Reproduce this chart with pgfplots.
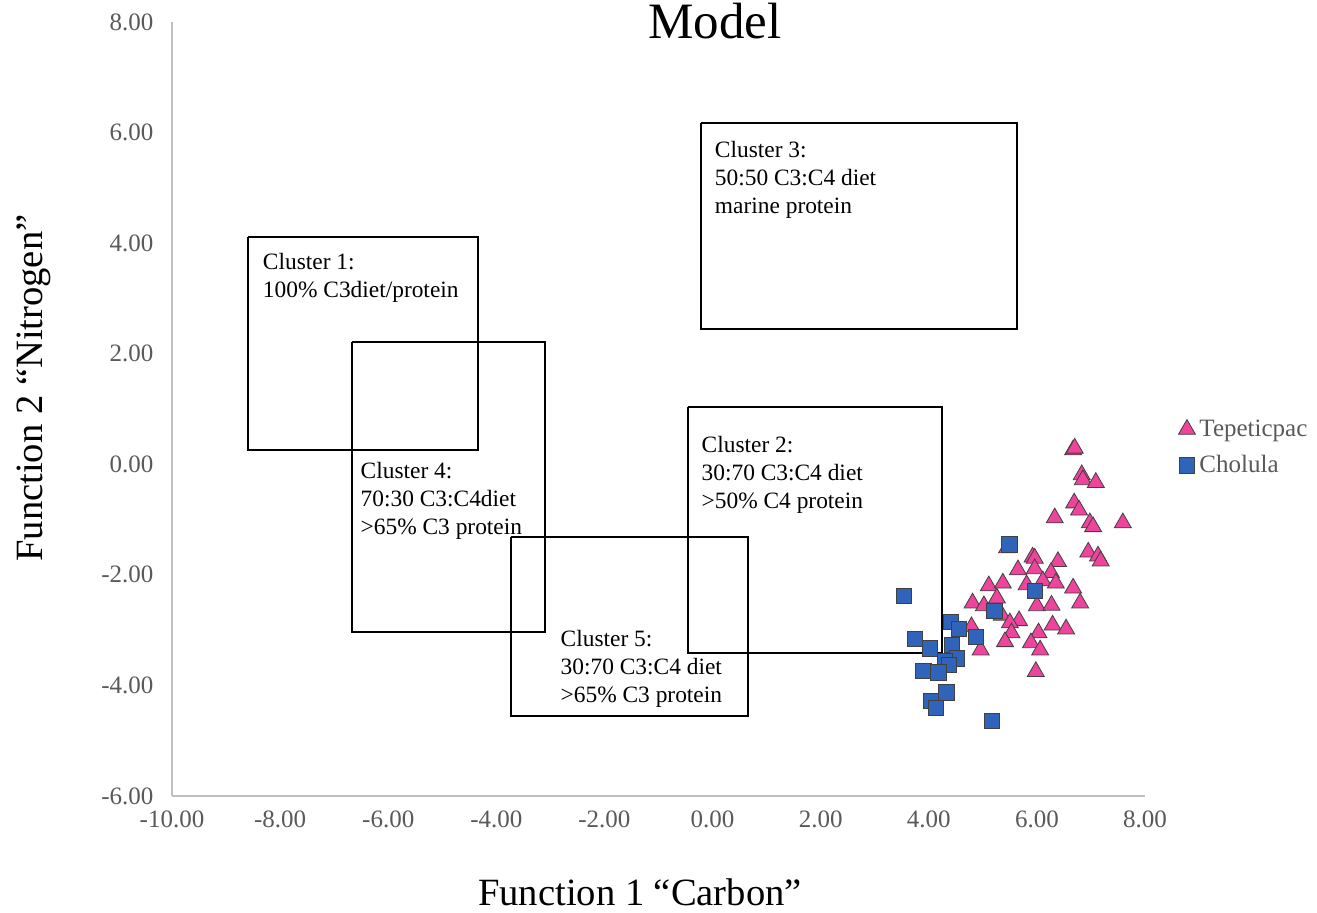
\documentclass[border=0pt]{standalone}
\usepackage{fontspec}
\setmainfont{Liberation Serif}
\usepackage{pgfplots}
\pgfplotsset{compat=1.18}
\definecolor{pinkm}{HTML}{EE449C}
\definecolor{bluem}{HTML}{2F64BA}
\definecolor{tickgray}{HTML}{595959}
\definecolor{axgray}{HTML}{BFBFBF}
\tikzset{cltxt/.style={anchor=base west, inner sep=0pt, outer sep=0pt, font=\fontsize{11.7}{13}\selectfont}}
\begin{document}
\begin{tikzpicture}
\begin{axis}[name=ax, scale only axis, width=486.5pt, height=387pt,
 xmin=-10, xmax=8, ymin=-6, ymax=8, clip=false,
 axis x line*=bottom, axis y line*=left,
 axis line style={draw=axgray, line width=1pt, -},
 major tick length=0pt,
 xtick={-10,-8,...,8},
 xticklabels={-10.00,-8.00,-6.00,-4.00,-2.00,0.00,2.00,4.00,6.00,8.00},
 ytick={-6,-4,...,8},
 yticklabels={-6.00,-4.00,-2.00,0.00,2.00,4.00,6.00,8.00},
 tick label style={font=\fontsize{12.5}{15}\selectfont, text=tickgray},
 xticklabel style={yshift=-3.8pt},
 yticklabel style={xshift=-5.8pt},
 legend style={draw=none, fill=none, at={(1.034,0.492)}, anchor=north west,
   font=\fontsize{12.5}{15}\selectfont, text=tickgray, row sep=4pt, inner sep=0pt},
 legend cell align=left,
 legend image code/.code={\draw[#1] plot coordinates {(0.12cm,0cm)};},
]
% cluster boxes
\addplot[black, line width=0.9pt, forget plot] coordinates {(-8.59,4.11) (-4.34,4.11) (-4.34,0.26) (-8.59,0.26) (-8.59,4.11)};
\addplot[black, line width=0.9pt, forget plot] coordinates {(-6.67,2.21) (-3.10,2.21) (-3.10,-3.03) (-6.67,-3.03) (-6.67,2.21)};
\addplot[black, line width=0.9pt, forget plot] coordinates {(-3.73,-1.32) (0.66,-1.32) (0.66,-4.55) (-3.73,-4.55) (-3.73,-1.32)};
\addplot[black, line width=0.9pt, forget plot] coordinates {(-0.455,1.04) (4.245,1.04) (4.245,-3.41) (-0.455,-3.41) (-0.455,1.04)};
\addplot[black, line width=0.9pt, forget plot] coordinates {(-0.214,6.17) (5.632,6.17) (5.632,2.45) (-0.214,2.45) (-0.214,6.17)};

\addplot[only marks, mark=triangle*, mark size=4.9pt, mark options={fill=pinkm, draw=black!75, line width=0.4pt}] table {
x y
6.67 0.26
6.70 0.29
6.83 -0.19
6.85 -0.28
7.09 -0.33
6.69 -0.70
6.78 -0.83
6.33 -0.97
6.98 -1.06
7.04 -1.13
7.59 -1.06
5.45 -1.51
6.95 -1.59
7.13 -1.66
7.18 -1.75
5.92 -1.68
5.96 -1.70
6.39 -1.76
5.65 -1.91
5.96 -1.89
6.26 -1.96
6.11 -2.11
6.35 -2.15
5.81 -2.18
5.11 -2.20
5.37 -2.15
6.67 -2.24
5.26 -2.42
4.81 -2.51
5.02 -2.56
6.00 -2.56
6.27 -2.55
6.80 -2.51
5.35 -2.73
5.67 -2.83
5.50 -2.87
5.53 -3.05
4.79 -2.94
6.03 -3.05
6.29 -2.91
6.54 -2.98
5.41 -3.21
5.89 -3.23
6.06 -3.36
4.96 -3.36
5.98 -3.75
};
\addlegendentry{Tepeticpac}
\addplot[only marks, mark=square*, mark size=3.9pt, mark options={fill=bluem, draw=black!75, line width=0.4pt}] table {
x y
5.49 -1.45
3.54 -2.38
5.96 -2.29
5.21 -2.65
4.41 -2.85
4.56 -2.98
4.87 -3.12
3.74 -3.16
4.02 -3.33
4.43 -3.27
4.52 -3.51
4.30 -3.57
4.37 -3.63
3.90 -3.74
4.18 -3.76
4.33 -4.13
4.04 -4.28
4.13 -4.41
5.17 -4.64
};
\addlegendentry{Cholula}

% cluster texts
\node[cltxt] at (axis cs:-8.317,3.514) {Cluster 1:};
\node[cltxt, yshift=-14pt] at (axis cs:-8.317,3.514) {100\% C3diet/protein};

\node[cltxt] at (axis cs:0.045,5.553) {Cluster 3:};
\node[cltxt, yshift=-14pt] at (axis cs:0.045,5.553) {50:50 C3:C4 diet};
\node[cltxt, yshift=-28pt] at (axis cs:0.045,5.553) {marine protein};

\node[cltxt] at (axis cs:-0.201,0.210) {Cluster 2:};
\node[cltxt, yshift=-14pt] at (axis cs:-0.201,0.210) {30:70 C3:C4 diet};
\node[cltxt, yshift=-28pt] at (axis cs:-0.201,0.210) {>50\% C4 protein};

\node[cltxt] at (axis cs:-6.509,-0.266) {Cluster 4:};
\node[cltxt, yshift=-14pt] at (axis cs:-6.509,-0.266) {70:30 C3:C4diet};
\node[cltxt, yshift=-28pt] at (axis cs:-6.509,-0.266) {>65\% C3 protein};

\node[cltxt] at (axis cs:-2.809,-3.300) {Cluster 5:};
\node[cltxt, yshift=-14pt] at (axis cs:-2.809,-3.300) {30:70 C3:C4 diet};
\node[cltxt, yshift=-28pt] at (axis cs:-2.809,-3.300) {>65\% C3 protein};

% title and axis labels
\node[anchor=base, font=\fontsize{25.5}{30}\selectfont] at (rel axis cs:0.558,0.979) {Model};
\node[anchor=base, font=\fontsize{19.3}{23}\selectfont] at (rel axis cs:0.481,-0.142) {Function 1 “Carbon”};
\node[anchor=base, rotate=90, font=\fontsize{19.3}{23}\selectfont] at (rel axis cs:-0.1326,0.527) {Function 2 “Nitrogen”};
\end{axis}
\pgfresetboundingbox
\path ([shift={(-86pt,-58.5pt)}]ax.south west) rectangle ([shift={(86pt,11pt)}]ax.north east);
\end{tikzpicture}
\end{document}
